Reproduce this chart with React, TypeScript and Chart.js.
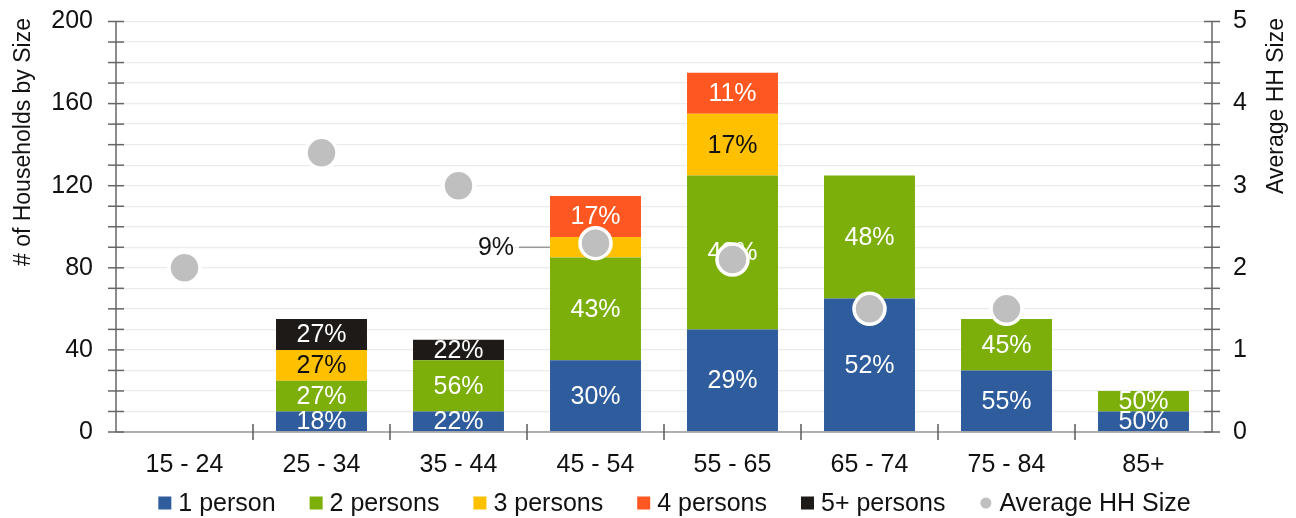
import React, { useEffect, useRef } from 'react';
import { Chart, registerables } from 'chart.js';

Chart.register(...registerables);

// Age bands of the household head
const ageGroups = ['15 - 24', '25 - 34', '35 - 44', '45 - 54', '55 - 65', '65 - 74', '75 - 84', '85+'];

// Number of households by household size
const onePerson = [0, 10, 10, 35, 50, 65, 30, 10];
const twoPersons = [0, 15, 25, 50, 75, 60, 25, 10];
const threePersons = [0, 15, 0, 10, 30, 0, 0, 0];
const fourPersons = [0, 0, 0, 20, 20, 0, 0, 0];
const fivePlusPersons = [0, 15, 10, 0, 0, 0, 0, 0];

// Average household size (right axis)
const averageHHSize = [2.0, 3.4, 3.0, 2.3, 2.1, 1.5, 1.5, null];

// Segments whose share label sits outside the bar with a leader line
const calloutSegments = [{ series: '3 persons', category: '45 - 54' }];

const leftTitle = '# of Households by Size';
const rightTitle = 'Average HH Size';

const FONT = '"Liberation Sans", Arial, Helvetica, sans-serif';
const BLUE = '#2e5c9c';
const GREEN = '#7caf0a';
const YELLOW = '#ffc000';
const ORANGE = '#ff5722';
const BLACK = '#1e1a17';
const GRAY = '#bfbfbf';
const TEXT = '#111111';

const axisDecor = {
  id: 'axisDecor',
  afterDatasetsDraw(chart: any) {
    const { ctx, chartArea: a, scales } = chart;
    const seg = (x1: number, y1: number, x2: number, y2: number) => {
      ctx.beginPath();
      ctx.moveTo(x1, y1);
      ctx.lineTo(x2, y2);
      ctx.stroke();
    };
    ctx.save();
    // category axis line and separators
    ctx.strokeStyle = '#9a9a9a';
    ctx.lineWidth = 1.5;
    seg(a.left, a.bottom, a.right, a.bottom);
    ctx.strokeStyle = '#5a5a5a';
    const x = scales.x;
    for (let i = 0; i < ageGroups.length - 1; i++) {
      const px = (x.getPixelForValue(i) + x.getPixelForValue(i + 1)) / 2;
      seg(px, a.bottom - 8, px, a.bottom + 8);
    }
    // value axes with crossing tick marks
    ctx.strokeStyle = '#666666';
    seg(a.left, a.top, a.left, a.bottom);
    scales.y.ticks.forEach((t: any) => {
      const py = scales.y.getPixelForValue(t.value);
      seg(a.left - 8, py, a.left + 8, py);
    });
    seg(a.right, a.top, a.right, a.bottom);
    scales.y2.ticks.forEach((t: any) => {
      const py = scales.y2.getPixelForValue(t.value);
      seg(a.right - 8, py, a.right + 8, py);
    });
    ctx.restore();
  },
};

const shareLabels = {
  id: 'shareLabels',
  beforeDatasetDraw(chart: any, args: any) {
    if (args.meta.type !== 'line') return;
    const { ctx } = chart;
    const barMetas = chart.getSortedVisibleDatasetMetas().filter((m: any) => m.type === 'bar');
    const totals = ageGroups.map((_, i) =>
      barMetas.reduce((s: number, m: any) => s + (Number(chart.data.datasets[m.index].data[i]) || 0), 0)
    );
    ctx.save();
    ctx.font = `25px ${FONT}`;
    ctx.textBaseline = 'middle';
    barMetas.forEach((m: any) => {
      const ds = chart.data.datasets[m.index];
      m.data.forEach((el: any, i: number) => {
        const v = Number(ds.data[i]) || 0;
        if (!v) return;
        const pct = Math.round((v / totals[i]) * 100) + '%';
        const p = el.getProps(['x', 'y', 'base', 'width'], true);
        const cy = (p.y + p.base) / 2;
        const callout = calloutSegments.some((c) => c.series === ds.label && c.category === ageGroups[i]);
        if (callout) {
          const left = p.x - p.width / 2;
          ctx.strokeStyle = '#9a9a9a';
          ctx.lineWidth = 1.5;
          ctx.beginPath();
          ctx.moveTo(left - 31, cy);
          ctx.lineTo(left, cy);
          ctx.stroke();
          ctx.fillStyle = TEXT;
          ctx.textAlign = 'right';
          ctx.fillText(pct, left - 36, cy + 1);
        } else {
          ctx.fillStyle = ds.backgroundColor === YELLOW ? TEXT : '#ffffff';
          ctx.textAlign = 'center';
          ctx.fillText(pct, p.x, cy + 1);
        }
      });
    });
    ctx.restore();
  },
};

const titlesAndLegend = {
  id: 'titlesAndLegend',
  afterDraw(chart: any) {
    const { ctx } = chart;
    ctx.save();
    ctx.fillStyle = TEXT;
    ctx.font = `23px ${FONT}`;
    ctx.textBaseline = 'middle';
    ctx.textAlign = 'right';
    const vertical = (text: string, cx: number, top: number) => {
      ctx.save();
      ctx.translate(cx, top);
      ctx.rotate(-Math.PI / 2);
      ctx.fillText(text, 0, 0);
      ctx.restore();
    };
    vertical(leftTitle, 24, 18);
    vertical(rightTitle, 1277, 18);

    // legend
    ctx.font = `25px ${FONT}`;
    ctx.textAlign = 'left';
    const box = 13;
    const gap = 7;
    const spacing = 34;
    const items = chart.data.datasets.map((ds: any) => ({
      label: ds.label,
      color: ds.backgroundColor,
      round: ds.type === 'line',
    }));
    const widths = items.map((it: any) => box + gap + ctx.measureText(it.label).width);
    const total = widths.reduce((s: number, w: number) => s + w, 0) + spacing * (items.length - 1);
    let x = 674.5 - total / 2;
    const y = 503;
    items.forEach((it: any, k: number) => {
      ctx.fillStyle = it.color;
      if (it.round) {
        ctx.beginPath();
        ctx.arc(x + box / 2, y, 5.5, 0, Math.PI * 2);
        ctx.fill();
      } else {
        ctx.fillRect(x, y - box / 2, box, box);
      }
      ctx.fillStyle = TEXT;
      ctx.fillText(it.label, x + box + gap, y + 1);
      x += widths[k] + spacing;
    });
    ctx.restore();
  },
};

// Value axes: fixed width, and no extra label padding above/below the plot
const fitValueAxis = (width: number) => (s: any) => {
  s.width = width;
  s.paddingTop = 0;
  s.paddingBottom = 0;
};

export default function App() {
  const canvasRef = useRef<HTMLCanvasElement | null>(null);

  useEffect(() => {
    if (!canvasRef.current) return;
    const bar = (label: string, data: number[], color: string) => ({
      type: 'bar' as const,
      label,
      data,
      backgroundColor: color,
      borderWidth: 0,
      yAxisID: 'y',
      order: 1,
      barPercentage: 0.664,
      categoryPercentage: 1,
    });
    const chart = new Chart(canvasRef.current, {
      data: {
        labels: ageGroups,
        datasets: [
          bar('1 person', onePerson, BLUE),
          bar('2 persons', twoPersons, GREEN),
          bar('3 persons', threePersons, YELLOW),
          bar('4 persons', fourPersons, ORANGE),
          bar('5+ persons', fivePlusPersons, BLACK),
          {
            type: 'line' as const,
            label: 'Average HH Size',
            data: averageHHSize,
            yAxisID: 'y2',
            showLine: false,
            order: 0,
            backgroundColor: GRAY,
            pointBackgroundColor: GRAY,
            pointBorderColor: '#ffffff',
            pointBorderWidth: 3.5,
            pointRadius: 15.5,
            pointHoverRadius: 15.5,
          },
        ] as any,
      },
      options: {
        animation: false,
        responsive: false,
        maintainAspectRatio: false,
        layout: { padding: { top: 21.5, bottom: 41, left: 0, right: 0 } },
        plugins: { legend: { display: false }, tooltip: { enabled: false } },
        scales: {
          x: {
            stacked: true,
            grid: { display: false },
            border: { display: false },
            ticks: { font: { size: 25, family: FONT }, color: TEXT, padding: 10, maxRotation: 0, autoSkip: false },
            afterFit: (s: any) => {
              s.height = 45;
            },
          },
          y: {
            stacked: true,
            position: 'left',
            min: 0,
            max: 200,
            grid: { color: '#ebebeb', lineWidth: 1.3, drawTicks: false },
            border: { display: false },
            ticks: {
              stepSize: 10,
              autoSkip: false,
              padding: 23,
              font: { size: 25, family: FONT },
              color: TEXT,
              callback: (v: any) => (Number(v) % 40 === 0 ? String(v) : ''),
            },
            afterFit: fitValueAxis(116),
          },
          y2: {
            position: 'right',
            min: 0,
            max: 5,
            grid: { display: false, drawTicks: false },
            border: { display: false },
            ticks: {
              stepSize: 0.25,
              autoSkip: false,
              padding: 21,
              font: { size: 25, family: FONT },
              color: TEXT,
              callback: (v: any) => (Number(v) % 1 === 0 ? String(v) : ''),
            },
            afterFit: fitValueAxis(84),
          },
        },
      } as any,
      plugins: [axisDecor, shareLabels, titlesAndLegend],
    });
    return () => chart.destroy();
  }, []);

  return (
    <div style={{ position: 'fixed', left: 0, top: 0, width: 1296, height: 518, background: '#ffffff' }}>
      <canvas ref={canvasRef} width={1296} height={518} />
    </div>
  );
}
